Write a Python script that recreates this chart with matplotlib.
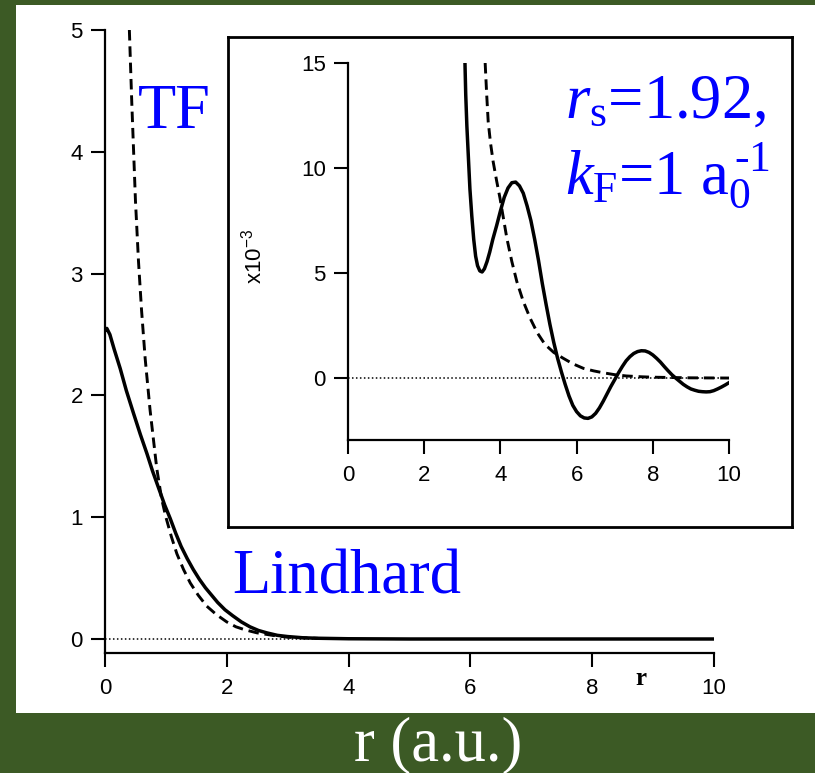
import matplotlib
matplotlib.use("Agg")
import matplotlib.pyplot as plt
from matplotlib.patches import Rectangle

# main panel: Lindhard (solid) and Thomas-Fermi (dashed) screening
r_lind = [0, 0.03, 0.08, 0.15, 0.25, 0.35, 0.47, 0.58, 0.69, 0.78, 0.88, 0.98, 1.07, 1.16, 1.25, 1.35,
          1.45, 1.55, 1.65, 1.75, 1.85, 1.97, 2.1, 2.24, 2.38, 2.52, 2.66, 2.83, 3.0, 3.25, 3.5, 4,
          5, 6, 7, 8, 9, 10]
y_lind = [2.53, 2.55, 2.5, 2.38, 2.22, 2.04, 1.85, 1.68, 1.52, 1.38, 1.24, 1.1, 0.99, 0.87, 0.76, 0.66,
          0.57, 0.49, 0.42, 0.36, 0.30, 0.24, 0.19, 0.14, 0.10, 0.07, 0.05, 0.03, 0.02, 0.01, 0.006, 0.002,
          0, 0, 0, 0, 0, 0]
r_tf = [0.40, 0.42, 0.44, 0.47, 0.50, 0.55, 0.60, 0.66, 0.74, 0.85, 0.93, 1.0, 1.09, 1.18, 1.29, 1.40,
        1.53, 1.67, 1.83, 2.0, 2.15, 2.3, 2.5, 2.75, 3.0, 3.5]
y_tf = [5.0, 4.7, 4.4, 4.0, 3.6, 3.1, 2.7, 2.3, 1.88, 1.4, 1.15, 1.0, 0.84, 0.70, 0.57, 0.46,
        0.36, 0.27, 0.20, 0.14, 0.10, 0.075, 0.05, 0.03, 0.015, 0.005]

# inset (x10^-3)
r_lind_in = [3.07, 3.09, 3.12, 3.16, 3.2, 3.25, 3.3, 3.35, 3.4, 3.46, 3.52, 3.58, 3.65, 3.72, 3.8, 3.9,
             4.0, 4.1, 4.2, 4.3, 4.4, 4.5, 4.6, 4.7, 4.8, 4.9, 5.0, 5.1, 5.2, 5.3, 5.4, 5.5, 5.6, 5.7,
             5.8, 5.9, 6.0, 6.1, 6.2, 6.3, 6.4, 6.5, 6.6, 6.7, 6.8, 6.9, 7.0, 7.1, 7.2, 7.3, 7.4, 7.5,
             7.6, 7.7, 7.8, 7.9, 8.0, 8.1, 8.2, 8.3, 8.4, 8.5, 8.6, 8.7, 8.8, 8.9, 9.0, 9.1, 9.2, 9.3,
             9.4, 9.5, 9.6, 9.7, 9.8, 9.9, 10.0]
y_lind_in = [15, 13.5, 12.0, 10.5, 9.0, 7.7, 6.6, 5.8, 5.35, 5.1, 5.05, 5.2, 5.55, 6.0, 6.6, 7.25,
             7.95, 8.6, 9.05, 9.3, 9.33, 9.15, 8.8, 8.2, 7.5, 6.6, 5.6, 4.5, 3.5, 2.55, 1.7, 0.95, 0.3, -0.3,
             -0.85, -1.3, -1.6, -1.8, -1.9, -1.92, -1.85, -1.68, -1.42, -1.1, -0.75, -0.4, -0.08, 0.25, 0.55, 0.82, 1.02, 1.17,
             1.26, 1.3, 1.29, 1.22, 1.1, 0.94, 0.76, 0.55, 0.35, 0.16, 0.0, -0.15, -0.3, -0.42, -0.52, -0.58, -0.63, -0.65,
             -0.66, -0.65, -0.6, -0.52, -0.43, -0.33, -0.22]
r_tf_in = [3.6, 3.64, 3.68, 3.74, 3.81, 3.9, 3.99, 4.08, 4.17, 4.3, 4.43, 4.6, 4.78, 4.97, 5.17, 5.4,
           5.65, 5.9, 6.18, 6.45, 6.7, 7.0, 7.3, 7.7, 8, 9, 10]
y_tf_in = [15, 13.5, 12.2, 11.2, 10.3, 9.4, 8.56, 7.6, 6.65, 5.55, 4.6, 3.65, 2.85, 2.15, 1.6, 1.22,
           0.94, 0.68, 0.46, 0.34, 0.25, 0.16, 0.1, 0.06, 0.04, 0.01, 0]

main_xticks = [0, 2, 4, 6, 8, 10]
main_yticks = [0, 1, 2, 3, 4, 5]
inset_yticks = [0, 5, 10, 15]

W, H = 815, 773
green = "#3c5a25"
blue = "#0000ff"

plt.rcParams["font.family"] = "Liberation Sans"
plt.rcParams["xtick.labelsize"] = 16
plt.rcParams["ytick.labelsize"] = 16
plt.rcParams["mathtext.fontset"] = "custom"
plt.rcParams["mathtext.rm"] = "Liberation Serif"
plt.rcParams["mathtext.it"] = "Liberation Serif:italic"
plt.rcParams["mathtext.sf"] = "Liberation Sans"

fig = plt.figure(figsize=(W / 100, H / 100), dpi=100, facecolor=green)
fig.patches.append(Rectangle((16 / W, 1 - 713 / H), 799 / W, 708 / H, transform=fig.transFigure,
                             facecolor="white", edgecolor="none", zorder=-1))


def box(x0, y0, x1, y1):
    # pixel box -> figure fraction rect
    return [x0 / W, 1 - y1 / H, (x1 - x0) / W, (y1 - y0) / H]


def style_axes(a):
    for s in ["top", "right"]:
        a.spines[s].set_visible(False)
    for s in ["left", "bottom"]:
        a.spines[s].set_linewidth(1.6)
    a.tick_params(direction="out", length=10, width=1.5)
    a.tick_params(axis="x", pad=8)
    a.tick_params(axis="y", pad=6)


ax = fig.add_axes(box(105, 30, 714, 653))
ax.set_facecolor("none")
ax.plot([0, 10], [0, 0], color="black", lw=1.1, ls=(0, (1, 1.6)))
ax.plot(r_tf, y_tf, color="black", lw=2.1, ls=(0, (3.6, 2.0)))
ax.plot(r_lind, y_lind, color="black", lw=2.5)
ax.set_xlim(0, 10)
ax.set_ylim(-0.115, 5)
ax.set_xticks(main_xticks)
ax.set_yticks(main_yticks)
style_axes(ax)

# inset frame
frame = fig.add_axes(box(228, 37, 792, 527), zorder=2)
frame.set_facecolor("white")
frame.set_xticks([])
frame.set_yticks([])
for s in frame.spines.values():
    s.set_linewidth(2)

axi = fig.add_axes(box(348, 63, 729, 440), zorder=3)
axi.set_facecolor("none")
axi.plot([0, 10], [0, 0], color="black", lw=1.1, ls=(0, (1, 1.6)))
axi.plot(r_tf_in, y_tf_in, color="black", lw=2.1, ls=(0, (3.6, 2.0)))
axi.plot(r_lind_in, y_lind_in, color="black", lw=2.5)
axi.set_xlim(0, 10)
axi.set_ylim(-2.95, 15)
axi.set_xticks(main_xticks)
axi.set_yticks(inset_yticks)
style_axes(axi)

fig.text(254 / W, 1 - 256 / H, r"$\mathsf{x10^{-3}}$", rotation=90, ha="center", va="center",
         fontsize=16, zorder=4)

# blue annotations
fig.text(138 / W, 1 - 128 / H, "TF", color=blue, fontsize=45, family="Liberation Serif", va="baseline")
fig.text(232 / W, 1 - 593 / H, "Lindhard", color=blue, fontsize=45, family="Liberation Serif", va="baseline")
fig.text(565 / W, 1 - 118 / H, r"$r_{\mathrm{s}}$=1.92,", color=blue, fontsize=45,
         family="Liberation Serif", va="baseline", zorder=5)
fig.text(565 / W, 1 - 193 / H, r"$k_{\mathrm{F}}$=1 $\mathrm{a}_{0}^{\,\text{-1}}$", color=blue, fontsize=45,
         family="Liberation Serif", va="baseline", zorder=5)

# axis labels
fig.text(641 / W, 1 - 685 / H, "r", color="black", fontsize=18, weight="bold",
         family="Liberation Serif", ha="center", va="baseline")
fig.text(438 / W, 1 - 760 / H, "r (a.u.)", color="white", fontsize=45, family="Liberation Serif",
         ha="center", va="baseline")

fig.savefig("out.png", dpi=100, facecolor=green)
